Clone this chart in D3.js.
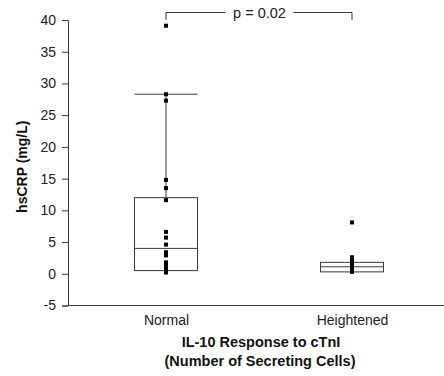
<!DOCTYPE html>
<html>
<head>
<meta charset="utf-8">
<script src="https://cdn.jsdelivr.net/npm/d3@7"></script>
<style>
  body { margin: 0; background: #fff; }
  svg { display: block; font-family: "Liberation Sans", Arial, sans-serif; }
</style>
</head>
<body>
<svg id="chart" width="444" height="376"></svg>
<script>
const categories = ['Normal', 'Heightened'];
const yTicks = [-5, 0, 5, 10, 15, 20, 25, 30, 35, 40];

// raw hsCRP values per group (mg/L)
const normalValues = [39.1, 28.3, 27.3, 14.8, 13.5, 11.6, 6.6, 5.7, 4.6, 3.4, 2.9, 1.8, 1.4, 1.0, 0.6, 0.2];
const heightenedValues = [8.1, 2.6, 2.2, 1.8, 1.4, 1.0, 0.6, 0.3];

// box stats: [q1, median, q3, upper whisker]
const normalBox = [0.5, 4.0, 12.0, 28.3];
const heightenedBox = [0.3, 1.1, 1.8, 1.8];

const pLabel = 'p = 0.02';

const W = 444, H = 376;
const margin = {top: 20, right: 0, bottom: 70, left: 68};

const svg = d3.select('#chart');

const y = d3.scaleLinear()
    .domain([-5, 40])
    .range([H - margin.bottom - 0.5, margin.top]);

const x = d3.scalePoint()
    .domain(categories)
    .range([166, 352]);

const boxW = 63;
const ink = '#3a3a3a';

// Y axis
const yAxis = svg.append('g')
    .attr('transform', `translate(${margin.left},0)`)
    .call(d3.axisLeft(y).tickValues(yTicks).tickSize(6).tickPadding(6)
        .tickFormat(d => String(d)));
yAxis.select('.domain').attr('stroke', ink);
yAxis.selectAll('.tick line').attr('stroke', ink);
yAxis.selectAll('text')
    .attr('font-size', 14)
    .attr('fill', '#222')
    .attr('font-family', '"Liberation Sans", Arial, sans-serif');

// X axis (no tick marks, baseline spans full width)
const xAxis = svg.append('g')
    .attr('transform', `translate(0,${y(-5)})`)
    .call(d3.axisBottom(x).tickSize(0).tickPadding(10));
xAxis.select('.domain').remove();
xAxis.append('line')
    .attr('x1', margin.left).attr('x2', W)
    .attr('stroke', ink);
xAxis.selectAll('text')
    .attr('font-size', 14)
    .attr('fill', '#222')
    .attr('font-family', '"Liberation Sans", Arial, sans-serif');

// axis titles
svg.append('text')
    .attr('transform', `translate(27,${(y(40) + y(-5)) / 2 + 4}) rotate(-90)`)
    .attr('text-anchor', 'middle')
    .attr('font-size', 14)
    .attr('font-weight', 'bold')
    .attr('fill', '#111')
    .text('hsCRP (mg/L)');

const xTitle = svg.append('text')
    .attr('text-anchor', 'middle')
    .attr('font-size', 14.5)
    .attr('font-weight', 'bold')
    .attr('fill', '#111');
xTitle.append('tspan').attr('x', 261).attr('y', 347).text('IL-10 Response to cTnI');
xTitle.append('tspan').attr('x', 260).attr('y', 366).text('(Number of Secreting Cells)');

// boxes
const groups = [
  {cat: 'Normal', box: normalBox, values: normalValues},
  {cat: 'Heightened', box: heightenedBox, values: heightenedValues}
];

groups.forEach(g => {
  const cx = x(g.cat);
  const [q1, med, q3, hi] = g.box;
  const grp = svg.append('g');

  if (hi > q3) {
    grp.append('line')
        .attr('x1', cx).attr('x2', cx)
        .attr('y1', y(q3)).attr('y2', y(hi))
        .attr('stroke', ink);
    grp.append('line')
        .attr('x1', cx - boxW / 2).attr('x2', cx + boxW / 2)
        .attr('y1', y(hi)).attr('y2', y(hi))
        .attr('stroke', ink);
  }

  grp.append('rect')
      .attr('x', cx - boxW / 2)
      .attr('y', y(q3))
      .attr('width', boxW)
      .attr('height', y(q1) - y(q3))
      .attr('fill', 'none')
      .attr('stroke', ink);

  grp.append('line')
      .attr('x1', cx - boxW / 2).attr('x2', cx + boxW / 2)
      .attr('y1', y(med)).attr('y2', y(med))
      .attr('stroke', ink);

  grp.selectAll('rect.pt')
      .data(g.values)
      .join('rect')
      .attr('class', 'pt')
      .attr('x', cx - 2)
      .attr('y', d => y(d) - 2)
      .attr('width', 4)
      .attr('height', 4)
      .attr('fill', '#000');
});

// significance bracket
const by = 12.5;
const bx1 = x('Normal'), bx2 = x('Heightened');
const mid = (bx1 + bx2) / 2 + 0.5;
svg.append('path')
    .attr('d', `M${bx1},${by + 7.5}V${by}H${mid - 34}M${mid + 34},${by}H${bx2}V${by + 7.5}`)
    .attr('fill', 'none')
    .attr('stroke', ink);
svg.append('text')
    .attr('x', mid)
    .attr('y', by + 5)
    .attr('text-anchor', 'middle')
    .attr('font-size', 14.5)
    .attr('fill', '#222')
    .text(pLabel);
</script>
</body>
</html>
